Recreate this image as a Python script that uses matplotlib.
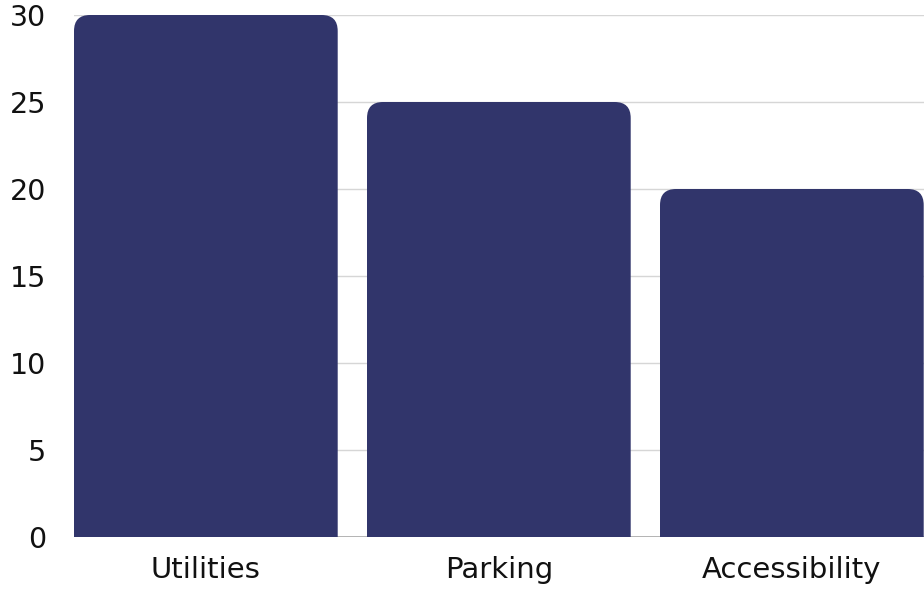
import matplotlib.pyplot as plt
from matplotlib.patches import FancyBboxPatch

categories = ['Utilities', 'Parking', 'Accessibility']
values = [30, 25, 20]
yticks = [0, 5, 10, 15, 20, 25, 30]

bar_color = '#31356b'
bar_width = 0.9

plt.rcParams['font.family'] = ['DejaVu Sans']

fig = plt.figure(figsize=(9.24, 5.9), dpi=100)
ax = fig.add_axes([74 / 924, 53 / 590, 850 / 924, 522 / 590])
ax.set_xlim(-0.45, 2.451)
ax.set_ylim(0, 30)

# plain bars first, then swap each for a box with rounded top corners
bars = ax.bar(range(len(categories)), values, width=bar_width, color=bar_color)
x_per_px = (2.451 + 0.45) / 850
y_per_px = 30 / 522
radius_px = 16
for b in bars:
    b.set_visible(False)
    x0, w, h = b.get_x(), b.get_width(), b.get_height()
    drop = 2.0  # push the bottom below zero so only the top corners show rounding
    patch = FancyBboxPatch((x0, -drop), w, h + drop,
                           boxstyle=f'round,pad=0,rounding_size={radius_px * x_per_px}',
                           mutation_aspect=y_per_px / x_per_px,
                           facecolor=bar_color, edgecolor='none', zorder=3)
    ax.add_patch(patch)

ax.set_yticks(yticks)
ax.set_xticks(range(len(categories)))
ax.set_xticklabels(categories)
ax.tick_params(axis='y', length=0, labelsize=20.5, colors='#111111', pad=20)
ax.tick_params(axis='x', length=0, labelsize=21, colors='#111111', pad=14)
ax.grid(axis='y', color='#d6d6d6', linewidth=1)
ax.axhline(0, color='#a8a8a8', linewidth=1.2, zorder=2)
ax.set_axisbelow(True)
for s in ax.spines.values():
    s.set_visible(False)

fig.savefig('out.png', dpi=100)
